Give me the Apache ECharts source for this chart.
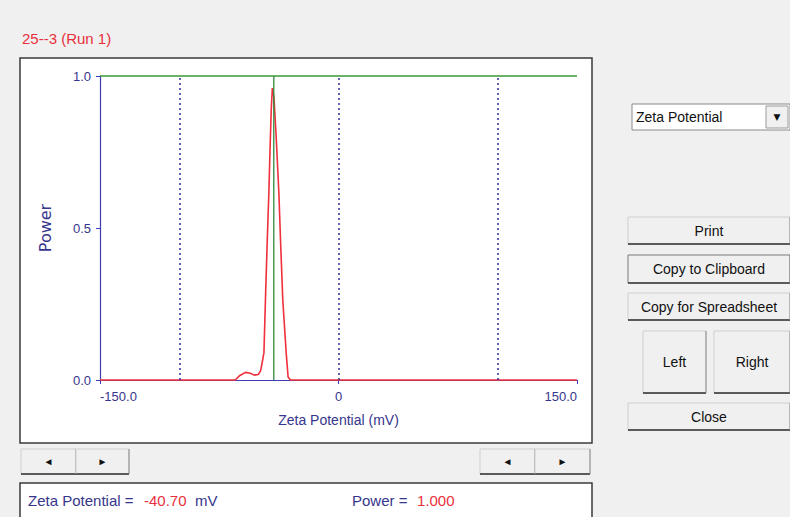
<!DOCTYPE html>
<html>
<head>
<meta charset="utf-8">
<script src="https://cdn.jsdelivr.net/npm/echarts@6/dist/echarts.min.js"></script>
<style>
html,body{margin:0;padding:0;background:#f0f0f0;}
#chart{width:790px;height:517px;}
</style>
</head>
<body>
<div id="chart"></div>
<script>
// ---- data ----
const chartTitle = "25--3 (Run 1)";
const zetaValues  = [-150, -65, -62, -58.5, -55.5, -53, -50.5, -49, -47.9, -46.9, -45.8, -44.8, -43.8, -43.1, -42.3, -41.6, -40.6, -39.2, -37.5, -36.4, -35, -32.9, -31.7, -30.2, 150];
const powerValues = [0, 0, 0.015, 0.025, 0.022, 0.016, 0.018, 0.03, 0.06, 0.09, 0.29, 0.46, 0.615, 0.75, 0.89, 0.96, 0.93, 0.80, 0.615, 0.45, 0.26, 0.09, 0.01, 0, 0];
const cursorZeta = -40.70;
const cursorPower = 1.000;
const gridLineZeta = [-100, 0, 100];
const xTickLabels = ["-150.0", "0", "150.0"];
const yTickLabels = ["0.0", "0.5", "1.0"];
const xAxisTitle = "Zeta Potential (mV)";
const yAxisTitle = "Power";
const dropdownText = "Zeta Potential";
const buttonLabels = ["Print", "Copy to Clipboard", "Copy for Spreadsheet", "Left", "Right", "Close"];

const FONT = "Liberation Sans";
const BLUE_TXT = "#36368c";
const RED_TXT = "#e8303c";

const curve = zetaValues.map((z, i) => [z, powerValues[i]]);

// ---- UI chrome via graphic ----
function button(x, y, w, h, label, focused, fs) {
  return [
    {type:'rect', shape:{x:x, y:y, width:w, height:h}, style:{fill:'#f0f0f0', stroke: focused ? '#7a7a7a' : '#cfcfcf', lineWidth:1}},
    {type:'line', shape:{x1:x, y1:y+h, x2:x+w, y2:y+h}, style:{stroke:'#5a5a5a', lineWidth:2}},
    {type:'line', shape:{x1:x+w, y1:y, x2:x+w, y2:y+h}, style:{stroke:'#8a8a8a', lineWidth:1}},
    {type:'text', style:{x:x+w/2, y:y+h/2, text:label, font:(fs||14)+'px "'+FONT+'"', fill:'#111', align:'center', verticalAlign:'middle'}}
  ];
}
const g = [];
g.push({type:'text', z:10, style:{x:22, y:38, text:chartTitle, font:'15px "'+FONT+'"', fill:RED_TXT, verticalAlign:'middle'}});
g.push({type:'rect', z:-10, shape:{x:20, y:58, width:572, height:385}, style:{fill:'#ffffff', stroke:'#3a3a3a', lineWidth:1.5}});
// scroll buttons
g.push(...button(21, 449, 55, 25, '\u25C4', false, 10));
g.push(...button(76, 449, 53, 25, '\u25BA', false, 10));
g.push(...button(480, 449, 55, 25, '\u25C4', false, 10));
g.push(...button(535, 449, 55, 25, '\u25BA', false, 10));
// info box
g.push({type:'rect', shape:{x:20, y:483, width:572, height:40}, style:{fill:'#ffffff', stroke:'#3a3a3a', lineWidth:1.5}});
g.push({type:'text', style:{x:28, y:500, text:'Zeta Potential =', font:'15px "'+FONT+'"', fill:BLUE_TXT, verticalAlign:'middle'}});
g.push({type:'text', style:{x:144, y:500, text:cursorZeta.toFixed(2), font:'15px "'+FONT+'"', fill:RED_TXT, verticalAlign:'middle'}});
g.push({type:'text', style:{x:195, y:500, text:'mV', font:'15px "'+FONT+'"', fill:BLUE_TXT, verticalAlign:'middle'}});
g.push({type:'text', style:{x:352, y:500, text:'Power =', font:'15px "'+FONT+'"', fill:BLUE_TXT, verticalAlign:'middle'}});
g.push({type:'text', style:{x:417, y:500, text:cursorPower.toFixed(3), font:'15px "'+FONT+'"', fill:RED_TXT, verticalAlign:'middle'}});
// dropdown
g.push({type:'rect', shape:{x:632, y:104, width:158, height:26}, style:{fill:'#ffffff', stroke:'#8a8a8a', lineWidth:1}});
g.push({type:'text', style:{x:636, y:117, text:dropdownText, font:'14px "'+FONT+'"', fill:'#111', verticalAlign:'middle'}});
g.push({type:'rect', shape:{x:766, y:106, width:22, height:22}, style:{fill:'#f0f0f0', stroke:'#9a9a9a', lineWidth:1}});
g.push({type:'text', style:{x:777, y:117, text:'\u25BC', font:'9px "DejaVu Sans"', fill:'#111', align:'center', verticalAlign:'middle'}});
// right buttons
g.push(...button(628, 217, 162, 27, buttonLabels[0], false));
g.push(...button(628, 255, 162, 28, buttonLabels[1], true));
g.push(...button(628, 293, 162, 27, buttonLabels[2], false));
g.push(...button(643, 331, 63, 62, buttonLabels[3], false));
g.push(...button(714, 331, 76, 62, buttonLabels[4], false));
g.push(...button(628, 403, 162, 27, buttonLabels[5], false));

const chart = echarts.init(document.getElementById('chart'), null, {renderer:'svg'});
chart.setOption({
  backgroundColor:'#f0f0f0',
  animation:false,
  graphic:g,
  grid:{left:100, right:213, top:76, bottom:137, containLabel:false},
  xAxis:{
    type:'value', min:-150, max:150, interval:150,
    name:xAxisTitle, nameLocation:'middle', nameGap:33,
    nameTextStyle:{color:BLUE_TXT, fontFamily:FONT, fontSize:14},
    axisLine:{onZero:false, lineStyle:{color:'#3c3cb4', width:1}},
    axisTick:{show:true, length:4, lineStyle:{color:'#3c3cb4'}},
    axisLabel:{color:BLUE_TXT, fontFamily:FONT, fontSize:13, margin:10,
      alignMinLabel:'left', alignMaxLabel:'right',
      formatter:function(v){ const i=[-150,0,150].indexOf(v); return i>=0?xTickLabels[i]:''; }},
    splitLine:{show:false}
  },
  yAxis:{
    type:'value', min:0, max:1, interval:0.5,
    name:yAxisTitle, nameLocation:'middle', nameGap:47,
    nameTextStyle:{color:BLUE_TXT, fontFamily:'DejaVu Sans', fontSize:16},
    axisLine:{show:true, onZero:false, lineStyle:{color:'#3c3cb4', width:1.2}},
    axisTick:{show:true, length:4, lineStyle:{color:'#3c3cb4'}},
    axisLabel:{color:BLUE_TXT, fontFamily:FONT, fontSize:13, margin:9,
      formatter:function(v){ return yTickLabels[Math.round(v*2)]; }},
    splitLine:{show:false}
  },
  series:[
    {type:'line', data:[], symbol:'none', z:1,
     markLine:{silent:true, symbol:'none', label:{show:false},
       lineStyle:{color:'#2c2c9c', type:[2,3], width:1.5},
       data:gridLineZeta.map(v=>({xAxis:v}))}},
    {type:'line', data:curve, symbol:'none', clip:false, z:3,
     lineStyle:{color:'#f0303c', width:1.6}},
    {type:'line', data:[[-150,cursorPower],[150,cursorPower]], symbol:'none', clip:false, z:4,
     lineStyle:{color:'#3a9a3a', width:1.3}},
    {type:'line', data:[[cursorZeta,0],[cursorZeta,cursorPower]], symbol:'none', clip:false, z:4,
     lineStyle:{color:'#2e8a3a', width:1.3}}
  ]
});
</script>
</body>
</html>
